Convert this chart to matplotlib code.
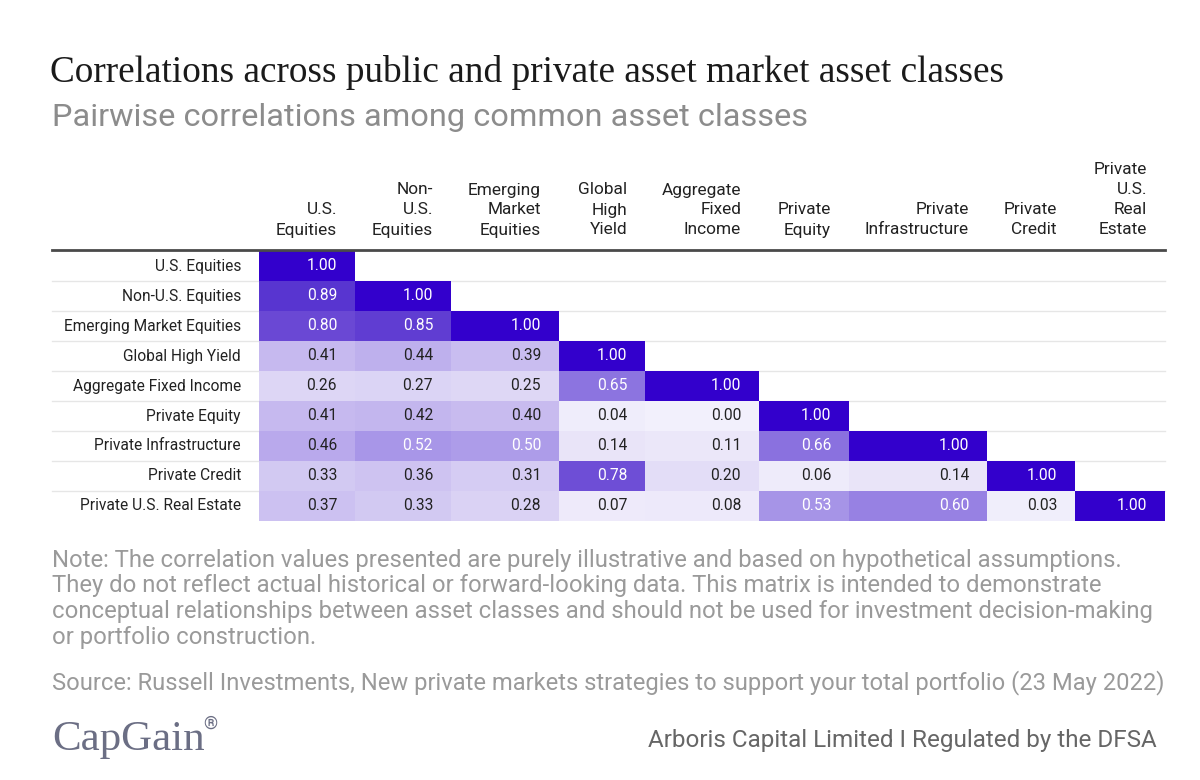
import numpy as np
import matplotlib
matplotlib.use("Agg")
import matplotlib.pyplot as plt
from matplotlib.colors import LinearSegmentedColormap

# ================= Data ===================
row_labels = ["U.S. Equities", "Non-U.S. Equities", "Emerging Market Equities",
              "Global High Yield", "Aggregate Fixed Income", "Private Equity",
              "Private Infrastructure", "Private Credit", "Private U.S. Real Estate"]
col_labels = ["U.S.\nEquities", "Non-\nU.S.\nEquities", "Emerging\nMarket\nEquities",
              "Global\nHigh\nYield", "Aggregate\nFixed\nIncome", "Private\nEquity",
              "Private\nInfrastructure", "Private\nCredit", "Private\nU.S.\nReal\nEstate"]
corr_rows = [
    [1.00],
    [0.89, 1.00],
    [0.80, 0.85, 1.00],
    [0.41, 0.44, 0.39, 1.00],
    [0.26, 0.27, 0.25, 0.65, 1.00],
    [0.41, 0.42, 0.40, 0.04, 0.00, 1.00],
    [0.46, 0.52, 0.50, 0.14, 0.11, 0.66, 1.00],
    [0.33, 0.36, 0.31, 0.78, 0.20, 0.06, 0.14, 1.00],
    [0.37, 0.33, 0.28, 0.07, 0.08, 0.53, 0.60, 0.03, 1.00],
]

title = "Correlations across public and private asset market asset classes"
subtitle = "Pairwise correlations among common asset classes"
note = ("Note: The correlation values presented are purely illustrative and based on hypothetical assumptions.\n"
        "They do not reflect actual historical or forward-looking data. This matrix is intended to demonstrate\n"
        "conceptual relationships between asset classes and should not be used for investment decision-making\n"
        "or portfolio construction.")
source = "Source: Russell Investments, New private markets strategies to support your total portfolio (23 May 2022)"

# ================= Layout (pixels) ===================
col_widths = [96, 96, 108, 86, 114, 90, 138, 88, 90]
left, label_left, top, row_h = 259, 52, 251, 30

n = len(row_labels)
mat = np.full((n, n), np.nan)
for i, r in enumerate(corr_rows):
    mat[i, :len(r)] = r
mat = np.ma.masked_invalid(mat)

x_edges = left + np.concatenate([[0], np.cumsum(col_widths)])
y_edges = top + row_h * np.arange(n + 1)
right = x_edges[-1]

cmap = LinearSegmentedColormap.from_list("purp", [
    (0.00, "#f2f0fc"), (0.14, "#e9e4f8"), (0.26, "#ddd6f5"), (0.41, "#c6b9ef"),
    (0.52, "#a896e8"), (0.65, "#8c74e0"), (0.80, "#6a48d4"), (0.89, "#5835d0"),
    (1.00, "#3300cc")])

sans = ["Roboto", "DejaVu Sans"]
serif = ["Liberation Serif", "DejaVu Serif"]

fig = plt.figure(figsize=(12, 7.8), dpi=100)
ax = fig.add_axes([0, 0, 1, 1])
ax.set_xlim(0, 1200)
ax.set_ylim(780, 0)
ax.axis("off")

# row separators
for y in y_edges[1:-1]:
    ax.plot([label_left, right], [y, y], color="#e6e6e6", linewidth=1, zorder=1)

ax.pcolormesh(x_edges, y_edges, mat, cmap=cmap, vmin=0, vmax=1, zorder=2)

# header rule
ax.plot([label_left, right], [top - 1, top - 1], color="#4a4a4a", linewidth=2, zorder=3)

# row labels and cell values
for i in range(n):
    yc = (y_edges[i] + y_edges[i + 1]) / 2
    ax.text(left - 18, yc, row_labels[i], ha="right", va="center",
            fontsize=11.2, color="#222222", family=sans)
    for j, v in enumerate(corr_rows[i]):
        ax.text(x_edges[j + 1] - 18, yc, f"{v:.2f}", ha="right", va="center",
                fontsize=11.2, color="white" if v >= 0.5 else "#222222",
                family=sans, zorder=4)

# column headers, drawn bottom-up line by line
for j, lab in enumerate(col_labels):
    for k, line in enumerate(reversed(lab.split("\n"))):
        ax.text(x_edges[j + 1] - 18, 230 - 20 * k, line, ha="right", va="center",
                fontsize=12.4, color="#222222", family=sans)

# titles
ax.text(50, 72, title, ha="left", va="center", fontsize=26.8, color="#1a1a1a", family=serif)
ax.text(52, 118, subtitle, ha="left", va="center", fontsize=23.4, color="#8c8c8c", family=sans)

# notes
for k, line in enumerate(note.split("\n")):
    ax.text(52, 560 + 25.7 * k, line, ha="left", va="center", fontsize=17.2,
            color="#9a9a9a", family=sans)
ax.text(52, 683, source, ha="left", va="center", fontsize=17.1, color="#9a9a9a", family=sans)

# footer
ax.text(52, 740, "CapGain", ha="left", va="center", fontsize=31, color="#6b6e84", family=serif)
ax.text(203, 724, "®", ha="left", va="center", fontsize=13, color="#6b6e84", family=sans)
ax.text(1157, 740, "Arboris Capital Limited I Regulated by the DFSA", ha="right", va="center",
        fontsize=17.5, color="#666666", family=sans)

fig.savefig("out.png", dpi=100, facecolor="white")
